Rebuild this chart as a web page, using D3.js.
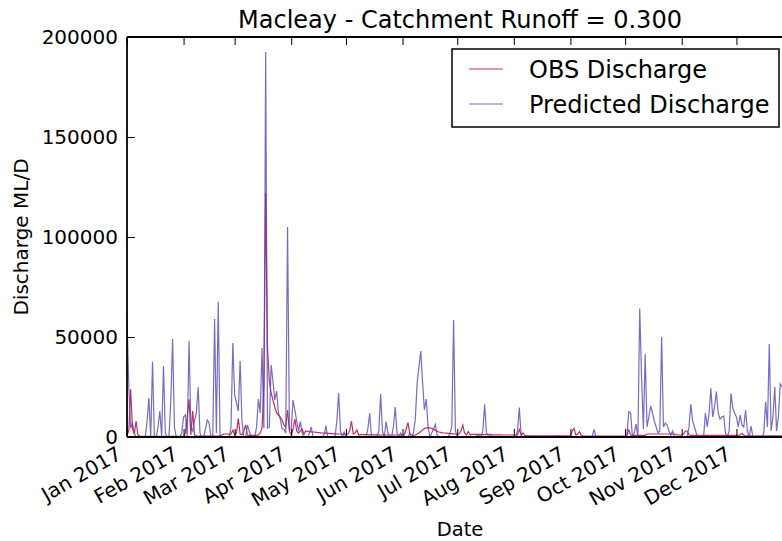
<!DOCTYPE html>
<html>
<head>
<meta charset="utf-8">
<script src="https://cdn.jsdelivr.net/npm/d3@7"></script>
<style>
    body { margin: 0; background: #fff; }
    svg { display: block; font-family: "DejaVu Sans", sans-serif; }
</style>
</head>
<body>
<svg id="chart" width="782" height="541"></svg>
<script>
// daily values, thousands of ML/D, one row per month of 2017
const predJan = [60,25,4.5,7,2, 0,0,0,0,0, 0,8,19.5,0,37.6, 0,0,5,13,0, 35.5,2,0,0,18, 49,5,0,0,0, 2];
const predFeb = [10,11,0,48,5, 3,8,12,25,2, 0,0,4,8.5,7, 0,0,59,2,67.6, 0,0,0,0,0, 0,5,47];
const predMar = [21,17,13,38,8, 0,0,6,3,0, 0,0,5,19,12, 44.5,4.5,192.5,4.5,5, 36,28,18.5,23,12, 9,4,4,2,105, 4];
const predApr = [4,18.5,13.5,8,3, 7.7,2,0,0,0, 2,5,0,0,0, 0,0,0,1,5.7, 0,0,0,0,0, 8,22,3,0,2.5];
const predMay = [0,0,0,0,0, 0,0,0,0,0, 0,0,4,11.8,0, 0,0,0,3,21.5, 3,0,7.7,2,0, 0,5,15,2,0, 2];
const predJun = [0,0,0,0,2, 0,2,9,27,35, 43,27,13.5,19,5, 0,2,4,6.3,1, 0,0,0,0,0, 0,2,5,58.5,3];
const predJul = [0,0,0,0,0, 0,0,0,0,0, 0,1,1,0,3, 16.3,2,1,1.5,0, 0,0,0,0,0, 0,0,0,0,0, 0];
const predAug = [0,0,3,14.7,1, 0,0,0,0,0, 0,0,0,0,0, 0,0,0,0,0, 0,0,0,0,0, 0.5,0,0,0,0, 0];
const predSep = [0,0,0,0,0, 0,0,0,0,0, 0,0,0.5,3.8,0, 0,0,0,0,0, 0,0,0,0,0.3, 0,0,0,0,0];
const predOct = [0,1,12.7,12,0, 2,6.5,0,64.3,30, 4,41.5,5,10,15.5, 12,8,5,2,3, 50,5,7,6,3, 1,3,0,0,0, 0];
const predNov = [0,0,0,0,5, 16.5,8,5,2,0, 0,0,0,12,5, 12,24.3,10,15,22.7, 12,9,10,10.5,2, 0,3,21.8,14.5,12];
const predDec = [10,5,11,6,5, 13.5,3,0,5.5,0, 0,0,0,0,0, 2,17.7,5,46.5,3, 10,25,3,10,26.5, 25,24,20,15,10, 6];

const obsJan = [1,3,23.8,4,1.5, 8,1,0.5,0.3,0.3, 0.3,0.3,0.3,0.3,0.3, 0.3,0.3,0.3,0.3,0.3, 0.3,0.3,0.3,0.3,0.3, 0.3,0.3,0.3,0.3,0.3, 0.3];
const obsFeb = [0.3,2,10,18.8,1, 13,1,0.5,0.5,0.5, 0.5,0.5,0.5,0.5,0.5, 0.5,0.5,0.5,0.5,0.5, 0.5,1,1.5,1.5,1.5, 1.2,1.5,3.5];
const obsMar = [1,2,9.3,1.5,1, 3,6,1,0.8,0.8, 0.8,0.8,0.8,1,2, 4.5,25,122,45,28, 22,18.5,15,12,11, 10,8.5,6,5,13.5, 3];
const obsApr = [1,4,9,3,2, 3,4,1.5,3,2.8, 2.7,2.6,2.5,2.4,2.3, 2.2,2.1,2,1.9,1.9, 1.8,1.8,1.7,1.7,1.6, 1.6,1.5,1.5,1.5,1.4];
const obsMay = [1.4,1.4,3,8,1.5, 2,3.5,1,1.2,1.2, 1.2,1.2,1.2,1.1,1.1, 1.1,1.1,1.1,1.1,1, 1,1,1,1,1, 1,1,1,1,1, 1];
const obsJun = [1,1,4,7.2,1.5, 0.8,0.8,1,1.5,2, 2.7,3.5,4.2,4.6,4.7, 4.6,4.3,3.8,3.3,2.9, 2.5,2.3,2.1,2,1.9, 1.8,1.7,1.6,1.6,1.5];
const obsJul = [1.5,1.5,3,6,2, 1,2.7,1,1.3,1.3, 1.3,1.3,1.3,1.2,1.2, 1.2,1.2,1.2,1.2,1.1, 1.1,1.1,1.1,1.1,1.1, 1,1,1,1,1, 1];
const obsAug = [1,1,1,3.8,1, 2,0.8,0.6,0.6,0.6, 0.6,0.6,0.6,0.6,0.6, 0.6,0.6,0.6,0.6,0.6, 0.6,0.6,0.6,0.6,0.6, 0.6,0.6,0.6,0.6,0.6, 0.6];
const obsSep = [0.6,3,4.3,1,1.5, 2.7,0.8,0.5,0.5,0.5, 0.5,0.5,0.5,0.5,0.5, 0.5,0.5,0.5,0.5,0.5, 0.5,0.5,0.5,0.5,0.5, 0.5,0.5,0.5,0.5,0.5];
const obsOct = [0.5,1,3.5,1,0.8, 0.8,0.8,0.8,0.8,0.8, 0.8,0.8,1.5,1.5,1.5, 1.5,1.5,1.5,1.5,1.5, 1.5,1.5,1.5,1.5,1.5, 1.5,1.5,1.5,1.2,1, 1];
const obsNov = [1,1.5,3,3,1, 0.8,0.8,0.8,0.8,0.8, 0.8,0.8,0.8,0.8,0.8, 0.8,0.8,0.8,0.8,0.8, 0.8,0.8,0.8,0.8,0.8, 0.8,0.8,0.8,0.8,0.8];
const obsDec = [0.8,0.8,1,1.8,0.8, 0.6,0.6,0.6,0.6,0.6, 0.6,0.6,0.6,0.6,0.6, 0.6,0.6,0.6,0.6,0.6, 0.6,0.6,0.6,0.6,0.6, 0.6,0.6,0.6,0.6,0.6, 0.6];

const yTicks = [0, 50000, 100000, 150000, 200000];
const seriesNames = ["OBS Discharge", "Predicted Discharge"];
const seriesColors = ["#c0174f", "#5546b8"];
const seriesAlpha = [0.9, 0.8];

const predicted = [].concat(predJan, predFeb, predMar, predApr, predMay, predJun,
    predJul, predAug, predSep, predOct, predNov, predDec);
const observed = [].concat(obsJan, obsFeb, obsMar, obsApr, obsMay, obsJun,
    obsJul, obsAug, obsSep, obsOct, obsNov, obsDec);

const startDay = new Date(2017, 0, 1);
const toRows = (vals) => vals.map((v, i) => ({ date: d3.timeDay.offset(startDay, i), value: v * 1000 }));

const svg = d3.select("#chart");
const plotL = 127, plotT = 37, plotR = 793, plotB = 437;

const x = d3.scaleTime().domain([startDay, new Date(2018, 0, 1)]).range([plotL, plotR]);
const y = d3.scaleLinear().domain([0, 200000]).range([plotB, plotT]);

svg.append("rect").attr("width", 782).attr("height", 541).attr("fill", "#fff");

svg.append("defs").append("clipPath").attr("id", "plotClip")
    .append("rect").attr("x", plotL).attr("y", plotT).attr("width", plotR - plotL).attr("height", plotB - plotT);

const line = d3.line().x(d => x(d.date)).y(d => y(d.value));

const plot = svg.append("g").attr("clip-path", "url(#plotClip)");
[observed, predicted].forEach((vals, i) => {
    plot.append("path")
        .datum(toRows(vals))
        .attr("fill", "none")
        .attr("stroke", seriesColors[i])
        .attr("stroke-opacity", seriesAlpha[i])
        .attr("stroke-width", 1.2)
        .attr("d", line);
});

// axes, matplotlib classic look: ticks point inwards
const months = x.ticks(d3.timeMonth.every(1)).filter(d => d < new Date(2018, 0, 1));
const fmt = d3.timeFormat("%b %Y");

const xTop = svg.append("g").attr("transform", `translate(0,${plotT})`)
    .call(d3.axisBottom(x).tickValues(months).tickSize(8).tickFormat(""));
const xBot = svg.append("g").attr("transform", `translate(0,${plotB})`)
    .call(d3.axisTop(x).tickValues(months).tickSize(8).tickFormat(""));
const yLeft = svg.append("g").attr("transform", `translate(${plotL},0)`)
    .call(d3.axisRight(y).tickValues(yTicks).tickSize(8).tickFormat(""));

[xTop, xBot, yLeft].forEach(g => {
    g.select(".domain").remove();
    g.selectAll(".tick line").attr("stroke", "#000").attr("stroke-width", 1);
});

// spines
svg.append("line").attr("x1", plotL).attr("x2", 782).attr("y1", plotT).attr("y2", plotT)
    .attr("stroke", "#000").attr("stroke-width", 1.8);
svg.append("line").attr("x1", plotL).attr("x2", 782).attr("y1", plotB).attr("y2", plotB)
    .attr("stroke", "#000").attr("stroke-width", 1.8);
svg.append("line").attr("x1", plotL).attr("x2", plotL).attr("y1", plotT).attr("y2", plotB)
    .attr("stroke", "#000").attr("stroke-width", 1.8);

// tick labels
svg.append("g").selectAll("text")
    .data(yTicks)
    .join("text")
    .attr("x", 118)
    .attr("y", d => y(d))
    .attr("dy", "0.36em")
    .attr("text-anchor", "end")
    .style("font-size", "20px")
    .text(d => d);

svg.append("g").selectAll("text")
    .data(months)
    .join("text")
    .attr("text-anchor", "end")
    .attr("transform", d => `translate(${x(d) - 4},${458}) rotate(-30)`)
    .style("font-size", "20px")
    .text(d => fmt(d));

// titles
svg.append("text").attr("x", (plotL + plotR) / 2).attr("y", 28)
    .attr("text-anchor", "middle").style("font-size", "24px")
    .text("Macleay - Catchment Runoff = 0.300");
svg.append("text").attr("x", (plotL + plotR) / 2).attr("y", 536)
    .attr("text-anchor", "middle").style("font-size", "19.5px")
    .text("Date");
svg.append("text").attr("transform", `translate(28,${(plotT + plotB) / 2}) rotate(-90)`)
    .attr("text-anchor", "middle").style("font-size", "20px")
    .text("Discharge ML/D");

// legend
const legend = svg.append("g");
legend.append("rect").attr("x", 452).attr("y", 49).attr("width", 327).attr("height", 78)
    .attr("fill", "#fff").attr("stroke", "#000").attr("stroke-width", 1.5);
const item = legend.selectAll("g.item")
    .data(seriesNames)
    .join("g")
    .attr("class", "item")
    .attr("transform", (d, i) => `translate(0,${69 + i * 35})`);
item.append("line").attr("x1", 469).attr("x2", 503)
    .attr("stroke", (d, i) => seriesColors[i]).attr("stroke-width", 1.2)
    .attr("stroke-opacity", (d, i) => seriesAlpha[i]);
item.append("text").attr("x", 529).attr("dy", "0.36em")
    .style("font-size", "24px")
    .text(d => d);
</script>
</body>
</html>
